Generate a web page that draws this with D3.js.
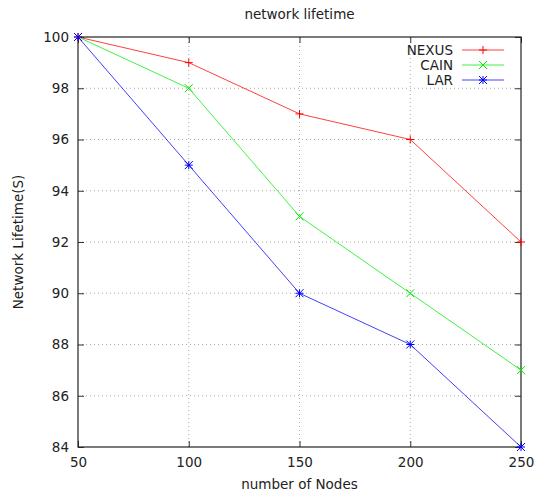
<!DOCTYPE html>
<html>
<head>
<meta charset="utf-8">
<script src="https://cdn.jsdelivr.net/npm/d3@7"></script>
<style>
  body { margin: 0; background: #fff; }
  svg text { font-family: "DejaVu Sans", sans-serif; fill: #222; }
</style>
</head>
<body>
<svg id="chart"></svg>
<script>
const nodes = [50, 100, 150, 200, 250];
const nexus = [100, 99, 97, 96, 92];
const cain = [100, 98, 93, 90, 87];
const lar = [100, 95, 90, 88, 84];
const yTicks = [84, 86, 88, 90, 92, 94, 96, 98, 100];

const series = [
  { name: "NEXUS", values: nexus, color: "#ff0000", marker: "plus" },
  { name: "CAIN", values: cain, color: "#00ee00", marker: "cross" },
  { name: "LAR", values: lar, color: "#0000ff", marker: "star" }
];

const width = 534;
const height = 495;
const margin = { top: 37, right: 13, bottom: 48, left: 78 };
const fontSize = "13.5px";

const svg = d3.select("#chart").attr("width", width).attr("height", height);

const x = d3.scaleLinear().domain([50, 250]).range([margin.left, width - margin.right]);
const y = d3.scaleLinear().domain([84, 100]).range([height - margin.bottom, margin.top]);

// grid lines (dotted)
svg.append("g")
  .selectAll("line")
  .data(nodes.slice(1, -1))
  .enter()
  .append("line")
  .attr("x1", (d) => x(d)).attr("x2", (d) => x(d))
  .attr("y1", y(84)).attr("y2", y(100))
  .attr("stroke", "#aaa")
  .attr("stroke-dasharray", "1,3");

svg.append("g")
  .selectAll("line")
  .data(yTicks.slice(1, -1))
  .enter()
  .append("line")
  .attr("x1", x(50)).attr("x2", x(250))
  .attr("y1", (d) => y(d)).attr("y2", (d) => y(d))
  .attr("stroke", "#aaa")
  .attr("stroke-dasharray", "1,3");

// axes with mirrored inward ticks
const tickLen = 6;
const axisStyle = (g) => {
  g.select(".domain").remove();
  g.selectAll(".tick line").attr("stroke", "#333");
  g.selectAll(".tick text").style("font-size", fontSize).attr("fill", "#222");
};

svg.append("g")
  .attr("transform", `translate(0,${y(84)})`)
  .call(d3.axisBottom(x).tickValues(nodes).tickSize(-tickLen).tickPadding(10).tickFormat(d3.format("d")))
  .call(axisStyle);

svg.append("g")
  .attr("transform", `translate(0,${y(100)})`)
  .call(d3.axisTop(x).tickValues(nodes).tickSize(-tickLen).tickFormat(""))
  .call(axisStyle);

svg.append("g")
  .attr("transform", `translate(${x(50)},0)`)
  .call(d3.axisLeft(y).tickValues(yTicks).tickSize(-tickLen).tickPadding(9).tickFormat(d3.format("d")))
  .call(axisStyle);

svg.append("g")
  .attr("transform", `translate(${x(250)},0)`)
  .call(d3.axisRight(y).tickValues(yTicks).tickSize(-tickLen).tickFormat(""))
  .call(axisStyle);

// border
svg.append("rect")
  .attr("x", x(50)).attr("y", y(100))
  .attr("width", x(250) - x(50)).attr("height", y(84) - y(100))
  .attr("fill", "none")
  .attr("stroke", "#222")
  .attr("stroke-width", 1.2);

// point markers
function drawMarker(g, cx, cy, type, color) {
  const s = 4;
  const segs = [];
  if (type === "plus" || type === "star") {
    segs.push([cx - s, cy, cx + s, cy], [cx, cy - s, cx, cy + s]);
  }
  if (type === "cross" || type === "star") {
    segs.push([cx - s, cy - s, cx + s, cy + s], [cx - s, cy + s, cx + s, cy - s]);
  }
  segs.forEach((p) => {
    g.append("line")
      .attr("x1", p[0]).attr("y1", p[1]).attr("x2", p[2]).attr("y2", p[3])
      .attr("stroke", color).attr("stroke-width", 1);
  });
}

const line = d3.line().x((d, i) => x(nodes[i])).y((d) => y(d));

series.forEach(function (s) {
  svg.append("path")
    .datum(s.values)
    .attr("fill", "none")
    .attr("stroke", s.color)
    .attr("stroke-opacity", 0.75)
    .attr("stroke-width", 1)
    .attr("d", line);
  const g = svg.append("g");
  s.values.forEach((v, i) => drawMarker(g, x(nodes[i]), y(v), s.marker, s.color));
});

// legend
const legend = svg.append("g");
series.forEach(function (s, i) {
  const ly = 50 + i * 15;
  legend.append("text")
    .attr("x", 453).attr("y", ly + 5)
    .attr("text-anchor", "end")
    .style("font-size", fontSize)
    .text(s.name);
  legend.append("line")
    .attr("x1", 462).attr("x2", 504)
    .attr("y1", ly).attr("y2", ly)
    .attr("stroke", s.color).attr("stroke-opacity", 0.75);
  drawMarker(legend, 483, ly, s.marker, s.color);
});

// title and axis labels
svg.append("text")
  .attr("x", (x(50) + x(250)) / 2)
  .attr("y", 19)
  .attr("text-anchor", "middle")
  .style("font-size", fontSize)
  .text("network lifetime");

svg.append("text")
  .attr("x", (x(50) + x(250)) / 2)
  .attr("y", 489)
  .attr("text-anchor", "middle")
  .style("font-size", fontSize)
  .text("number of Nodes");

svg.append("text")
  .attr("transform", `translate(23,${(y(84) + y(100)) / 2}) rotate(-90)`)
  .attr("text-anchor", "middle")
  .style("font-size", fontSize)
  .text("Network Lifetime(S)");
</script>
</body>
</html>
